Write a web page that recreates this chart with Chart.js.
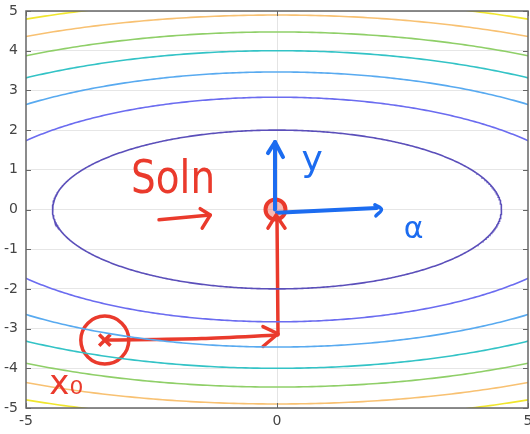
<!DOCTYPE html>
<html>
<head>
<meta charset="utf-8">
<script src="https://cdn.jsdelivr.net/npm/chart.js@4"></script>
<style>
  html, body { margin: 0; padding: 0; background: #fff; }
  #wrap { width: 530px; height: 434px; position: relative; }
</style>
</head>
<body>
<div id="wrap"><canvas id="plot"></canvas></div>
<script>
// contour plot of f(x,y) = a*x^2 + b*y^2
const coefA = 1;
const coefB = 5;
const levels = [20, 40, 60, 80, 100, 120, 140];
const levelColors = ['#5b4fba', '#6b6cf0', '#58aaf0', '#33c3c6', '#8fcf68', '#f8c172', '#f0e62e'];
const xTicks = [-5, 0, 5];
const yTicks = [-5, -4, -3, -2, -1, 0, 1, 2, 3, 4, 5];

// hand-drawn annotations
const startMark = [{x: -3.43, y: -3.29}];
const redPathH = [{x: -3.43, y: -3.29}, {x: -1.5, y: -3.25}, {x: 0.02, y: -3.16}];
const redHeadH = [{x: -0.28, y: -2.95}, {x: 0.02, y: -3.13}, {x: -0.28, y: -3.45}];
const redPathV = [{x: 0.02, y: -3.13}, {x: 0.0, y: -0.2}];
const solMark = [{x: -0.03, y: 0.0}];
const solLegs = [{x: -0.18, y: -0.47}, {x: -0.02, y: -0.14}, {x: 0.16, y: -0.47}];
const solArrow = [{x: -2.35, y: -0.26}, {x: -1.33, y: -0.14}];
const solArrowHead = [{x: -1.53, y: 0.02}, {x: -1.33, y: -0.14}, {x: -1.49, y: -0.47}];
const blueUp = [{x: -0.04, y: 0.0}, {x: -0.04, y: 1.70}];
const blueUpHead = [{x: -0.18, y: 1.42}, {x: -0.04, y: 1.70}, {x: 0.12, y: 1.32}];
const blueRight = [{x: 0.0, y: -0.08}, {x: 1.99, y: 0.04}];
const blueRightHook = [{x: 1.95, y: 0.12}, {x: 2.08, y: 0.0}, {x: 1.97, y: -0.16}];
const notes = [
  {text: 'Soln', x: -2.07, y: 0.72, color: '#ea3a2c', size: 46, maxW: 84},
  {text: 'y', x: 0.70, y: 1.2, color: '#1c6cf0', size: 36},
  {text: 'α', x: 2.72, y: -0.52, color: '#1c6cf0', size: 30},
  {text: 'x₀', x: -4.2, y: -4.42, color: '#ea3a2c', size: 34}
];

function ellipse(level) {
  const pts = [];
  const rx = Math.sqrt(level / coefA), ry = Math.sqrt(level / coefB);
  for (let i = 0; i <= 720; i++) {
    const t = i / 720 * 2 * Math.PI;
    pts.push({x: rx * Math.cos(t), y: ry * Math.sin(t)});
  }
  return pts;
}

const red = '#ea3a2c';
const blue = '#1c6cf0';
function stroke(data, color, w, bend) {
  return {data, showLine: true, borderColor: color, borderWidth: w, pointRadius: 0,
          fill: false, tension: bend || 0, borderCapStyle: 'round', borderJoinStyle: 'round'};
}

const datasets = levels.map((lv, i) => ({
  data: ellipse(lv), showLine: true, borderColor: levelColors[i], borderWidth: 1.6,
  pointRadius: 0, fill: false, tension: 0
}));
datasets.push(
  stroke(redPathH, red, 3.5, 0.3), stroke(redHeadH, red, 3.5), stroke(redPathV, red, 3.5),
  stroke(solLegs, red, 3.5), stroke(solArrow, red, 3.5), stroke(solArrowHead, red, 3.5),
  stroke(blueUp, blue, 4), stroke(blueUpHead, blue, 4),
  stroke(blueRight, blue, 4), stroke(blueRightHook, blue, 3.5, 0.4),
  {data: startMark, pointRadius: 24, pointStyle: 'circle', borderColor: red, borderWidth: 3.5, backgroundColor: 'transparent'},
  {data: startMark, pointRadius: 8, pointStyle: 'crossRot', borderColor: red, borderWidth: 3.5},
  {data: solMark, pointRadius: 10, pointStyle: 'circle', borderColor: red, borderWidth: 4, backgroundColor: 'rgba(234,58,44,0.35)'}
);

// box, inward tick marks and the handwritten labels
const frame = {
  id: 'frame',
  afterDatasetsDraw(chart) {
    const {ctx, chartArea: a, scales: {x, y}} = chart;
    ctx.save();
    ctx.strokeStyle = '#666';
    ctx.lineWidth = 1.5;
    ctx.strokeRect(a.left, a.top, a.right - a.left, a.bottom - a.top);
    ctx.beginPath();
    yTicks.forEach(v => {
      const py = Math.round(y.getPixelForValue(v)) + 0.5;
      ctx.moveTo(a.left, py); ctx.lineTo(a.left + 5, py);
      ctx.moveTo(a.right, py); ctx.lineTo(a.right - 5, py);
    });
    xTicks.forEach(v => {
      const px = Math.round(x.getPixelForValue(v)) + 0.5;
      ctx.moveTo(px, a.bottom); ctx.lineTo(px, a.bottom - 5);
      ctx.moveTo(px, a.top); ctx.lineTo(px, a.top + 5);
    });
    ctx.lineWidth = 1;
    ctx.stroke();
    ctx.textAlign = 'center';
    ctx.textBaseline = 'middle';
    notes.forEach(n => {
      ctx.fillStyle = n.color;
      ctx.font = n.size + 'px "DejaVu Sans"';
      ctx.fillText(n.text, x.getPixelForValue(n.x), y.getPixelForValue(n.y), n.maxW);
    });
    ctx.restore();
  }
};

const noPad = s => { s.paddingLeft = 0; s.paddingRight = 0; s.paddingTop = 0; s.paddingBottom = 0; };

new Chart(document.getElementById('plot'), {
  type: 'scatter',
  data: {datasets},
  options: {
    responsive: true,
    maintainAspectRatio: false,
    animation: false,
    layout: {autoPadding: false, padding: {top: 11, right: 2, left: 0, bottom: 0}},
    plugins: {legend: {display: false}, tooltip: {enabled: false}},
    scales: {
      x: {
        min: -5, max: 5,
        afterBuildTicks: s => { s.ticks = xTicks.map(v => ({value: v})); },
        afterFit: s => { s.height = 26; noPad(s); },
        ticks: {color: '#444', padding: 5, font: {family: 'DejaVu Sans', size: 14}, maxRotation: 0},
        grid: {color: c => c.tick && c.tick.value === 0 ? '#e4e4e4' : 'transparent', tickLength: 0},
        border: {display: false}
      },
      y: {
        min: -5, max: 5,
        afterBuildTicks: s => { s.ticks = yTicks.map(v => ({value: v})); },
        afterFit: s => { s.width = 26; noPad(s); },
        ticks: {color: '#444', padding: 8, font: {family: 'DejaVu Sans', size: 14}},
        grid: {color: '#e6e6e6', tickLength: 0},
        border: {display: false}
      }
    }
  },
  plugins: [frame]
});
</script>
</body>
</html>
